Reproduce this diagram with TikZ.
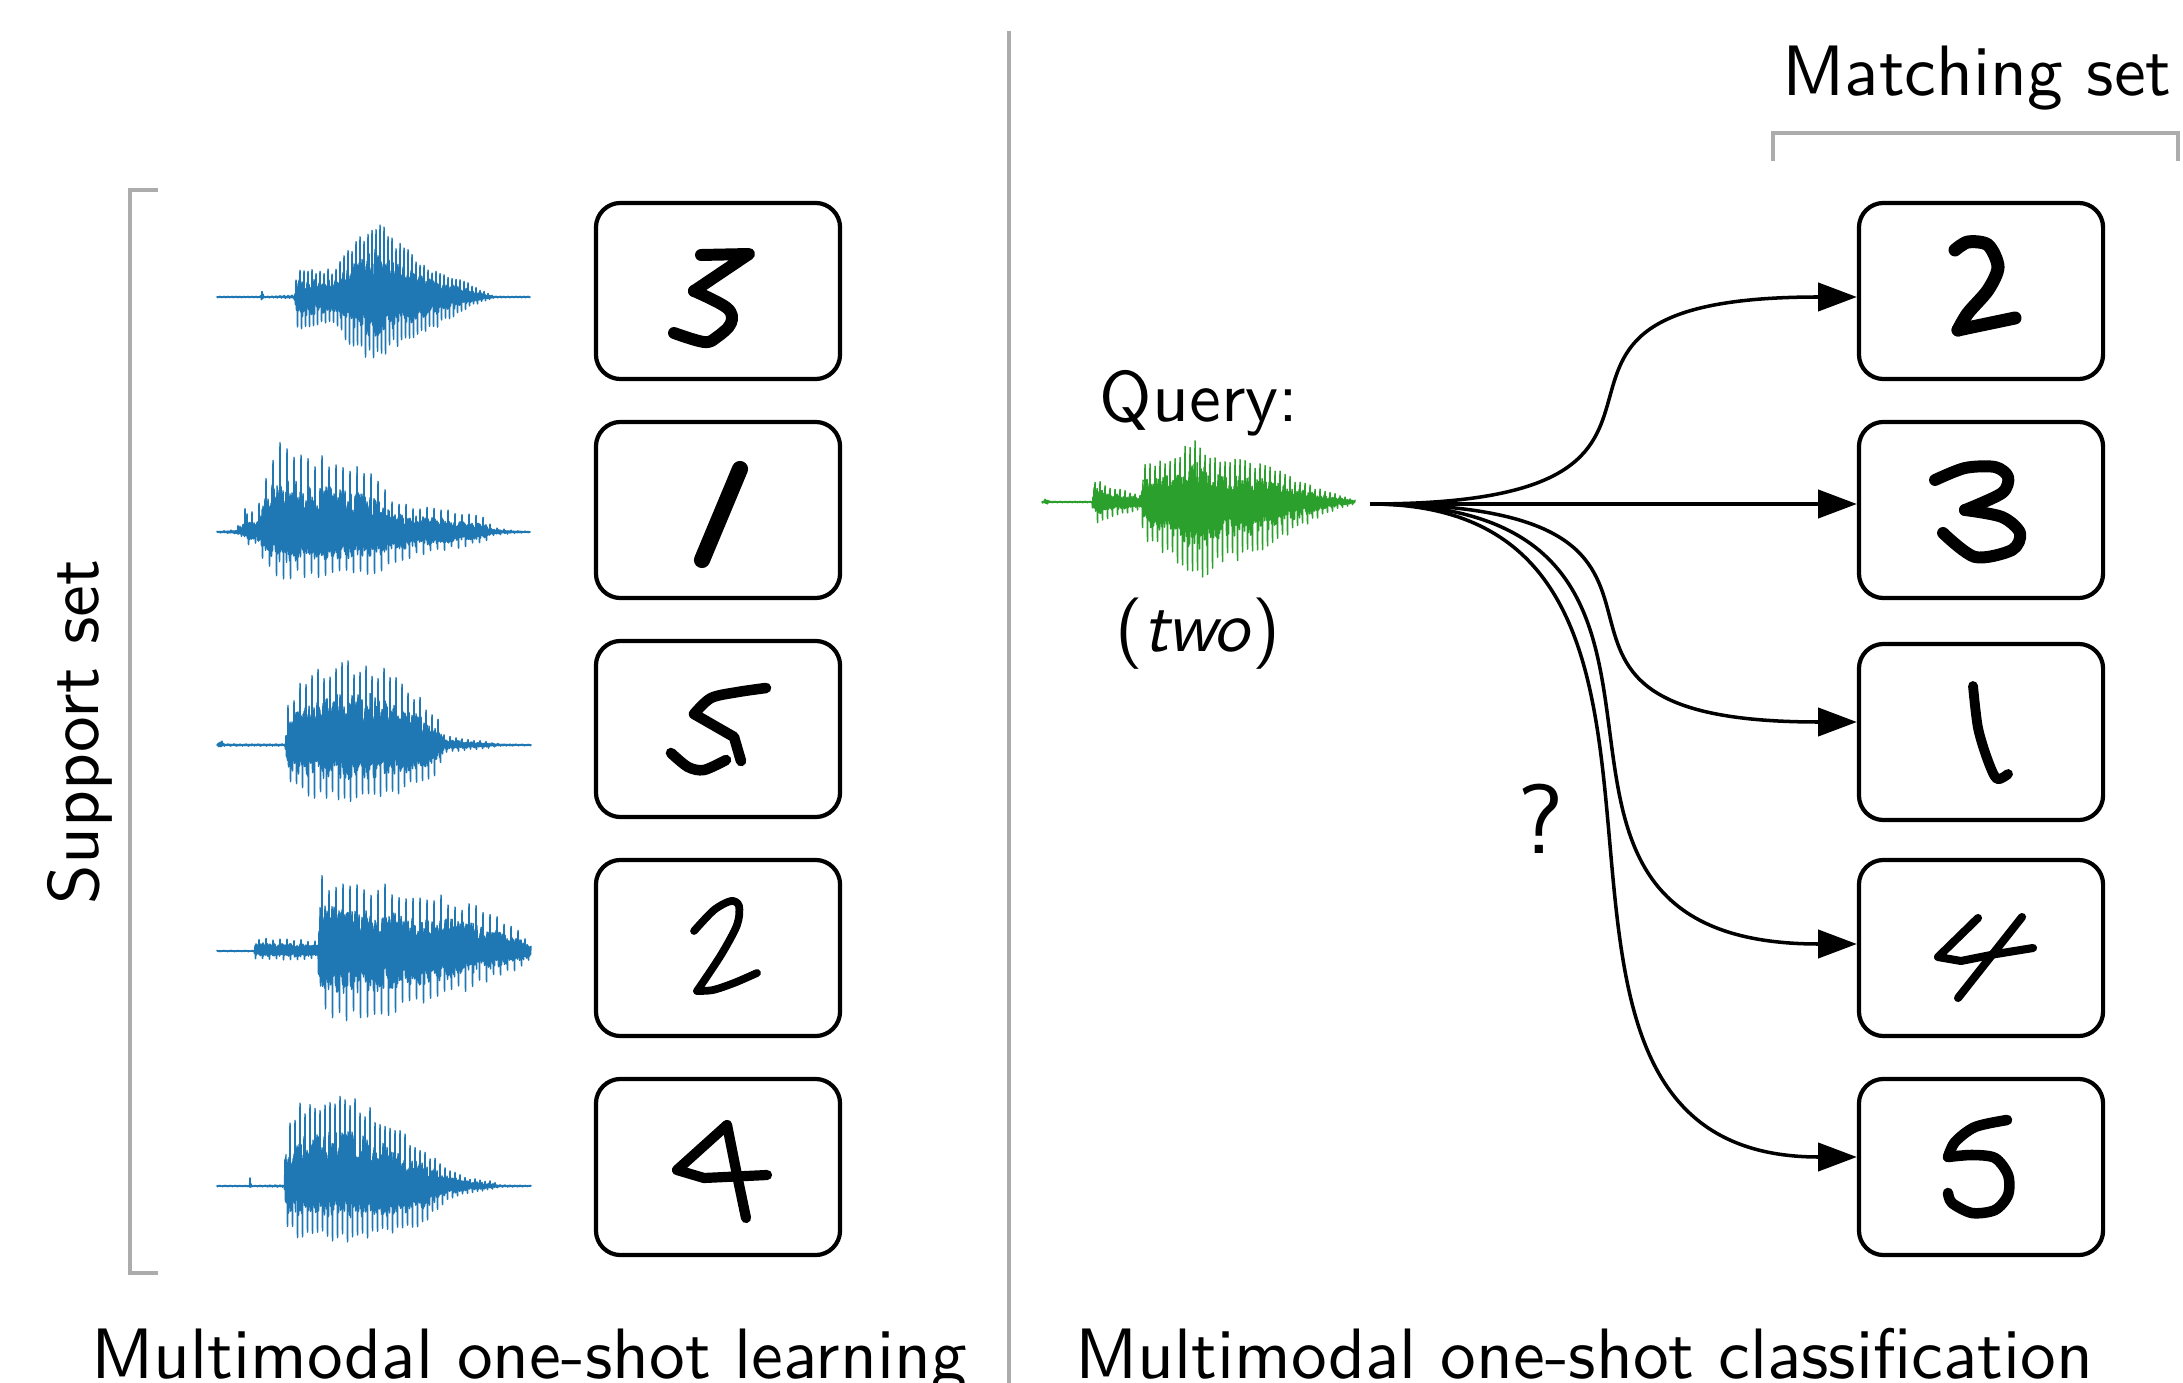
\documentclass[tikz,border=0pt]{standalone}
\usepackage{fontspec}
\setsansfont{lmsans10-regular.otf}[ItalicFont=lmsans10-oblique.otf]
\usetikzlibrary{arrows.meta,calc}
\definecolor{wblue}{RGB}{31,119,180}
\definecolor{wgreen}{RGB}{44,160,44}
\definecolor{brgray}{RGB}{172,172,172}
\newcommand\drawwave[8]{%
  \foreach \xb/\ub/\db [remember=\xb as \xa (initially #5), remember=\ub as \ua (initially #6), remember=\db as \da (initially #7)] in {#8} {%
    \pgfmathtruncatemacro\wsN{2*(\xb-\xa)+1}%
    \draw[wavestyle, #1] plot[domain=\xa:\xb, samples=\wsN] (\x, {#2 + ifthenelse(mod(round(2*\x),2)==0,-1,1) * ifthenelse(mod(round(2*\x),2)==0, \ua+(\ub-\ua)*(\x-\xa)/(\xb-\xa), \da+(\db-\da)*(\x-\xa)/(\xb-\xa)) * ifthenelse(mod(round(2*\x),#3)==0 || mod(round(2*\x),#3)==#4, 0.8+0.2*rnd, 0.25+0.35*rnd)});
  }%
}
\begin{document}
\begin{tikzpicture}[x=0.01cm, y=-0.01cm,
  wavestyle/.style={line width=0.42pt, line join=round, line cap=round},
  box/.style={draw, line width=1.2pt, rounded corners=7pt, minimum width=2.44cm, minimum height=1.76cm, inner sep=0pt, fill=white},
  lab/.style={font=\sffamily\fontsize{20.3}{24}\selectfont, inner sep=0pt, anchor=base},
  brk/.style={draw=brgray, line width=1pt},
  dg/.style={line width=#1, line cap=round, line join=round},
  arr/.style={line width=1pt, -{Triangle[length=11pt,width=8pt]}}]
\useasboundingbox (0,0) rectangle (2183,1383);
\clip (0,0) rectangle (2183,1383);

% divider and brackets
\draw[brk] (1009,31) -- (1009,1400);
\draw[brk] (158,190) -- (130,190) -- (130,1273) -- (158,1273);
\draw[brk] (1773,161) -- (1773,133) -- (2178,133) -- (2178,161);

% texts
\node[lab, rotate=90] (suptxt) at (98,732) {Support set};
\node[lab] (mattxt) at (1977,96) {Matching set};
\node[lab] (qtxt) at (1199,422) {Query:};
\node[lab] (twotxt) at (1198,652) {(\textit{two})};
\node[lab, font=\sffamily\fontsize{28}{32}\selectfont] (qmark) at (1541,853) {?};
\node[lab] (learntxt) at (529,1378) {Multimodal one-shot learning};
\node[lab] (classtxt) at (1584,1378) {Multimodal one-shot classification};

% waveforms
\pgfmathsetseed{11}
\drawwave{wblue}{297}{8}{3}{217}{0.7}{0.7}{260/0.7/0.7, 262/9/4, 264/0.7/0.7, 294/2/1.5, 297/30/35, 333/28/26, 347/47/46, 373/81/68, 400/54/48, 433/28/33, 470/14/10, 485/5/4, 495/0.8/0.8, 530/0.7/0.7}
\drawwave{wblue}{532}{14}{7}{217}{0.7}{0.7}{235/2.5/2, 242/12/5, 247/32/14, 256/14/12, 262/50/28, 277/94/53, 286/97/53, 300/84/46, 357/69/48, 388/47/38, 393/32/31, 483/16/11, 493/5/4, 513/1.5/1.5, 530/0.7/0.7}
\drawwave{wblue}{745}{12}{5}{217}{0.7}{0.7}{220/6/3, 225/1.2/1.2, 285/1.2/1.2, 288/45/40, 300/65/50, 320/80/56, 345/88/59, 370/86/58, 395/70/52, 421/48/40, 438/26/29, 445/10/8, 460/7/6, 490/3/3, 500/1.2/1.2, 531/0.7/0.7}
\drawwave{wblue}{951}{14}{7}{217}{0.7}{0.7}{254/0.7/0.7, 255/14/8, 300/12/10, 318/10/8, 320/76/72, 365/70/70, 421/62/58, 477/46/36, 519/22/18, 531/8/8}
\drawwave{wblue}{1186}{10}{5}{217}{0.7}{0.7}{249/0.7/0.7, 250/8/3, 252/0.7/0.7, 284/1.2/1.2, 286/55/43, 296/85/52, 351/94/57, 393/64/50, 421/40/40, 449/16/14, 470/8/7, 491/5/4, 500/1.2/1.2, 531/0.7/0.7}
\drawwave{wgreen}{502}{10}{5}{1042}{0.7}{0.7}{1046/4/3, 1050/0.7/0.7, 1092/0.7/0.7, 1094/24/22, 1115/14/14, 1141/8/8, 1143/38/39, 1170/45/55, 1197/66/84, 1217/46/66, 1263/40/52, 1297/22/28, 1330/10/10, 1355/2/2}

% boxes
\node[box] (L1) at (718,291) {};
\node[box] (L2) at (718,510) {};
\node[box] (L3) at (718,729) {};
\node[box] (L4) at (718,948) {};
\node[box] (L5) at (718,1167) {};
\node[box] (R1) at (1981,291) {};
\node[box] (R2) at (1981,510) {};
\node[box] (R3) at (1981,732) {};
\node[box] (R4) at (1981,948) {};
\node[box] (R5) at (1981,1167) {};

% digits, left column
\begin{scope}[shift={(L1.center)}]
  \draw[dg=3.4pt] (-17,-36) -- (31,-37) -- (-24,0);
  \draw[dg=3.4pt] plot[smooth, tension=0.6] coordinates {(-24,0) (9,17) (13,32) (-1,46) (-14,51) (-44,42)};
\end{scope}
\begin{scope}[shift={(L2.center)}]
  \draw[dg=4.6pt] (22,-41) -- (-16,50);
\end{scope}
\begin{scope}[shift={(L3.center)}]
  \draw[dg=3pt] plot[smooth] coordinates {(48,-41) (20,-37) (-7,-31) (-24,-15)} -- (16,8) -- (23,32);
  \draw[dg=3pt] plot[smooth] coordinates {(8,31) (-14,41) (-30,38) (-47,24)};
\end{scope}
\begin{scope}[shift={(L4.center)}]
  \draw[dg=2.2pt] plot[smooth] coordinates {(-24,-17) (-4,-38) (13,-47) (21,-42) (19,-23) (3,7) (-21,43)};
  \draw[dg=2.2pt] plot[smooth] coordinates {(-21,43) (-5,42) (16,35) (39,25)};
\end{scope}
\begin{scope}[shift={(L5.center)}]
  \draw[dg=2.9pt] (9,-42) -- (-41,3) -- (-14,11) -- (49,8);
  \draw[dg=2.9pt] (9,-42) -- (19,8) -- (28,51);
\end{scope}

% digits, right column
\begin{scope}[shift={(R1.center)}]
  \draw[dg=3.7pt] plot[smooth] coordinates {(-26,-41) (-13,-49) (7,-46) (17,-24) (7,-1) (-13,22) (-23,39)};
  \draw[dg=3.7pt] plot[smooth] coordinates {(-23,39) (-9,36) (34,27)};
\end{scope}
\begin{scope}[shift={(R2.center)}]
  \draw[dg=3.4pt] plot[smooth] coordinates {(-46,-30) (-16,-42) (14,-43) (27,-33) (21,-17) (-16,0)};
  \draw[dg=3.4pt] plot[smooth] coordinates {(-16,0) (21,7) (39,23) (31,40) (-6,47) (-38,23)};
\end{scope}
\begin{scope}[shift={(R3.center)}]
  \draw[dg=2.8pt] plot[smooth] coordinates {(-8,-46) (-3,-4) (7,29) (16,47) (27,42)};
\end{scope}
\begin{scope}[shift={(R4.center)}]
  \draw[dg=2.3pt] (-3,-30) -- (-43,9) -- (-20,13) -- (15,6) -- (52,0);
  \draw[dg=2.3pt] (41,-31) -- (-23,50);
\end{scope}
\begin{scope}[shift={(R5.center)}]
  \draw[dg=3pt] plot[smooth] coordinates {(26,-47) (-6,-40) (-26,-25) (-33,-10)};
  \draw[dg=3pt] plot[smooth] coordinates {(-33,-10) (-9,-12) (14,-9) (27,8) (27,28) (14,43) (-9,46) (-29,36) (-33,26)};
\end{scope}

% arrows
\coordinate (q) at (1370,504);
\draw[arr] (q) .. controls +(410,0) and +(-410,0) .. ($(R1.west)+(0,6)$);
\draw[arr] (q) -- ($(R2.west)+(0,-6)$);
\draw[arr] (q) .. controls +(410,0) and +(-410,0) .. ($(R3.west)+(0,-10)$);
\draw[arr] (q) .. controls +(410,0) and +(-410,0) .. ($(R4.west)+(0,-4)$);
\draw[arr] (q) .. controls +(410,0) and +(-410,0) .. ($(R5.west)+(0,-10)$);
\end{tikzpicture}
\end{document}
